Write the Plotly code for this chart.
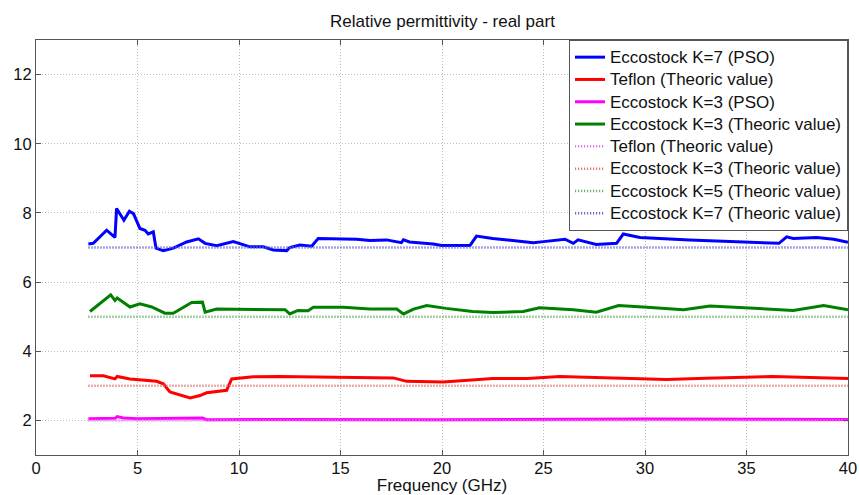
import plotly.graph_objects as go

# Eccostock K=7 (PSO)
k7_freq = [2.58, 2.82, 3.48, 3.89, 3.97, 4.33, 4.6, 4.8, 5.12, 5.37, 5.53, 5.78, 5.91, 6.27, 6.77, 7.42, 8.0, 8.33, 8.9, 9.72,
           10.54, 11.2, 11.69, 12.35, 12.5, 13.0, 13.58, 13.9, 15.8, 16.45, 17.27, 18.0, 18.1, 18.4, 19.57, 19.98, 21.38, 21.7,
           22.5, 23.5, 24.5, 25.0, 26.06, 26.47, 26.7, 27.6, 28.6, 28.93, 29.75, 32.2, 34.5, 36.6, 36.98, 37.3, 38.46, 39.3, 40.0]
k7_val = [7.1, 7.12, 7.5, 7.29, 8.13, 7.79, 8.05, 7.98, 7.55, 7.5, 7.39, 7.45, 6.98, 6.91, 6.98, 7.16, 7.25, 7.12, 7.05, 7.17,
          7.02, 7.02, 6.93, 6.91, 7.0, 7.07, 7.04, 7.26, 7.24, 7.2, 7.22, 7.14, 7.22, 7.16, 7.1, 7.06, 7.06, 7.33,
          7.26, 7.19, 7.14, 7.17, 7.24, 7.12, 7.22, 7.09, 7.12, 7.39, 7.29, 7.22, 7.17, 7.12, 7.31, 7.26, 7.29, 7.24, 7.15]

# Eccostock K=5 (green)
k5_freq = [2.66, 3.15, 3.68, 3.89, 4.0, 4.63, 5.12, 5.7, 6.35, 6.76, 7.67, 8.2, 8.33, 8.9, 10.05, 11.03, 12.27, 12.5, 12.9,
           13.4, 13.66, 15.14, 16.45, 17.77, 18.1, 18.6, 19.25, 20.2, 21.5, 22.5, 24.0, 24.8, 25.8, 26.47, 27.6, 28.7, 30.1,
           31.9, 33.2, 35.0, 37.3, 38.8, 40.0]
k5_val = [5.15, 5.39, 5.63, 5.47, 5.54, 5.28, 5.37, 5.28, 5.1, 5.1, 5.41, 5.42, 5.13, 5.22, 5.22, 5.22, 5.2, 5.08, 5.18,
          5.17, 5.27, 5.27, 5.22, 5.22, 5.08, 5.22, 5.32, 5.24, 5.15, 5.12, 5.15, 5.26, 5.22, 5.2, 5.13, 5.32, 5.27,
          5.2, 5.31, 5.25, 5.18, 5.32, 5.2]

# Teflon (red)
tef_freq = [2.66, 3.32, 3.89, 4.0, 4.63, 5.94, 6.27, 6.6, 7.59, 8.08, 8.4, 9.39, 9.64, 10.7, 12.0, 14.3, 17.6, 18.26,
            20.06, 22.5, 24.2, 25.8, 28.1, 31.07, 33.0, 36.3, 40.0]
tef_val = [3.29, 3.29, 3.2, 3.27, 3.2, 3.13, 3.06, 2.82, 2.65, 2.72, 2.8, 2.87, 3.2, 3.26, 3.27, 3.25, 3.23, 3.13,
           3.11, 3.21, 3.21, 3.27, 3.23, 3.18, 3.22, 3.27, 3.21]

# Eccostock K=3 (PSO, magenta)
k3_freq = [2.58, 3.5, 3.9, 4.0, 4.3, 5.0, 8.2, 8.4, 12.0, 20.0, 30.0, 40.0]
k3_val = [2.05, 2.07, 2.06, 2.11, 2.07, 2.05, 2.07, 2.02, 2.03, 2.02, 2.04, 2.03]

theo_freq = [2.58, 40.0]
theo_teflon = [2.0, 2.0]
theo_k3 = [3.0, 3.0]
theo_k5 = [5.0, 5.0]
theo_k7 = [7.0, 7.0]

names = ["Eccostock K=7 (PSO)", "Teflon (Theoric value)", "Eccostock K=3 (PSO)", "Eccostock K=3 (Theoric value)",
         "Teflon (Theoric value)", "Eccostock K=3 (Theoric value)", "Eccostock K=5 (Theoric value)",
         "Eccostock K=7 (Theoric value)"]

FONT = "Liberation Sans, Arial, Helvetica"

def leg(name):
    return '<span style="font-size:17px">' + name + '</span>'

fig = go.Figure()
solid = [(k7_freq, k7_val, "#0000ff"), (tef_freq, tef_val, "#ff0000"), (k3_freq, k3_val, "#ff00ff"), (k5_freq, k5_val, "#008000")]
for i, (x, y, c) in enumerate(solid):
    fig.add_trace(go.Scatter(x=x, y=y, mode="lines", name=leg(names[i]), line=dict(color=c, width=3)))
dotted = [(theo_teflon, "#e07ae8"), (theo_k3, "#e07878"), (theo_k5, "#6cb46c"), (theo_k7, "#6868d0")]
for j, (y, c) in enumerate(dotted):
    fig.add_trace(go.Scatter(x=theo_freq, y=y, mode="lines", name=leg(names[4 + j]),
                             line=dict(color=c, width=2.5, dash="1.2px,1.8px")))

axis_common = dict(showline=True, linecolor="#555", linewidth=1, mirror="ticks", ticks="inside", ticklen=5,
                   tickcolor="#555", showgrid=True, gridcolor="#bdbdbd", griddash="1px,2px", gridwidth=1,
                   zeroline=False, automargin=False,
                   tickfont=dict(family=FONT, size=16.5, color="#111"))

fig.update_layout(
    width=860, height=495,
    margin=dict(l=36, r=12, t=40, b=40),
    paper_bgcolor="white", plot_bgcolor="white",
    title=dict(text="Relative permittivity - real part", x=0.5145, xanchor="center", y=0.958, yanchor="middle",
               font=dict(family=FONT, size=17, color="#111")),
    xaxis=dict(range=[0, 40], dtick=5, tick0=0, ticklabelstandoff=-2,
               title=dict(text="Frequency (GHz)", standoff=1, font=dict(family=FONT, size=17, color="#111")),
               **axis_common),
    yaxis=dict(range=[1, 13], dtick=2, tick0=0, **axis_common),
    legend=dict(x=1, xanchor="right", y=1, yanchor="top", bgcolor="white", bordercolor="#555", borderwidth=1,
                font=dict(family=FONT, size=14.85, color="#111"), tracegroupgap=0, itemwidth=30),
    showlegend=True,
)

fig.write_html("out.html", config={"displayModeBar": False},
               post_script="document.body.style.margin='0';document.body.style.padding='0';")
